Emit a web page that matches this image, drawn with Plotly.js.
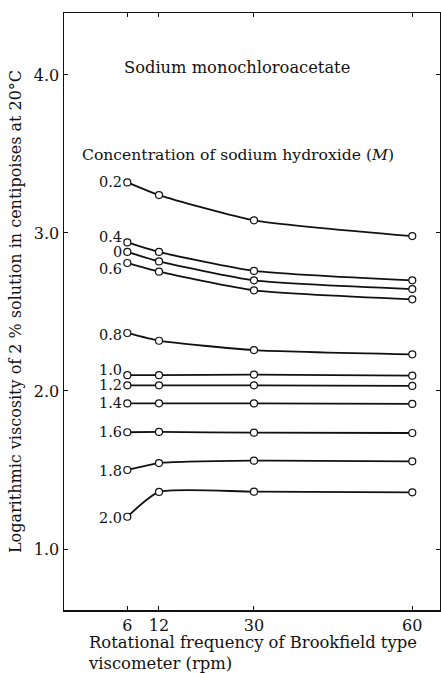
<!DOCTYPE html>
<html>
<head>
<meta charset="utf-8">
<script src="https://cdn.plot.ly/plotly-3.0.1.min.js"></script>
<style>html,body{margin:0;padding:0;background:#fff;}#chart{width:441px;height:673px;}</style>
</head>
<body>
<div id="chart"></div>
<script>
// Rotational frequency (rpm)
const rpm = [6, 12, 30, 60];
// Concentration of sodium hydroxide (M) -> log viscosity values
const conc = ["0.2", "0.4", "0", "0.6", "0.8", "1.0", "1.2", "1.4", "1.6", "1.8", "2.0"];
const v02 = [3.32, 3.24, 3.08, 2.98];
const v04 = [2.94, 2.88, 2.76, 2.70];
const v00 = [2.88, 2.82, 2.70, 2.645];
const v06 = [2.81, 2.755, 2.637, 2.58];
const v08 = [2.367, 2.318, 2.259, 2.232];
const v10 = [2.10, 2.10, 2.104, 2.097];
const v12 = [2.036, 2.036, 2.036, 2.032];
const v14 = [1.921, 1.922, 1.921, 1.918];
const v16 = [1.739, 1.741, 1.736, 1.734];
const v18 = [1.50, 1.544, 1.559, 1.555];
const v20 = [1.204, 1.361, 1.363, 1.359];
const series = [v02, v04, v00, v06, v08, v10, v12, v14, v16, v18, v20];

// label vertical nudges (px), style only
const labelShift = [0, 5, 0, -6, -2, 5, 0, 0, 0, -1, -1];

const FONT = "DejaVu Serif, Liberation Serif, serif";
const INK = "#111";

const traces = series.map((v, i) => ({
  x: rpm, y: v, type: "scatter", mode: "lines+markers",
  line: {color: INK, width: 1.8, shape: "spline", smoothing: 0.55},
  marker: {symbol: "circle", size: 7, color: "#fff", line: {color: INK, width: 1.2}},
  hoverinfo: "skip", showlegend: false, name: conc[i]
}));

const annotations = series.map((v, i) => ({
  x: rpm[0], y: v[0], xref: "x", yref: "y", text: conc[i], showarrow: false,
  xanchor: "right", yanchor: "middle", xshift: -3, yshift: labelShift[i],
  font: {family: FONT, size: 14.5, color: INK}
}));

annotations.push({
  x: 5.0, y: 4.044, xref: "x", yref: "y", text: "Sodium monochloroacetate",
  showarrow: false, xanchor: "left", yanchor: "middle",
  font: {family: FONT, size: 16.3, color: INK}
});
annotations.push({
  x: -2.96, y: 3.494, xref: "x", yref: "y", text: "Concentration of sodium hydroxide (<i>M</i>)",
  showarrow: false, xanchor: "left", yanchor: "middle",
  font: {family: FONT, size: 15.6, color: INK}
});
annotations.push({
  x: 0.0585, y: 0, xref: "paper", yref: "paper", yshift: -21,
  text: "Rotational frequency of Brookfield type<br>viscometer (rpm)",
  showarrow: false, xanchor: "left", yanchor: "top", align: "left",
  font: {family: FONT, size: 16.4, color: INK}
});

const layout = {
  width: 441, height: 673,
  margin: {l: 64, r: 1, t: 13, b: 63, pad: 0},
  paper_bgcolor: "#fff", plot_bgcolor: "#fff",
  xaxis: {
    range: [-6.0, 65.25], tickvals: rpm, ticktext: rpm.map(String),
    ticks: "inside", ticklen: 4, tickwidth: 1, tickcolor: INK,
    showline: true, linecolor: INK, linewidth: 1.5, mirror: "ticks",
    showgrid: false, zeroline: false,
    tickfont: {family: FONT, size: 16, color: INK}
  },
  yaxis: {
    range: [0.614, 4.392], tickvals: [1.0, 2.0, 3.0, 4.0],
    ticktext: ["1.0", "2.0", "3.0", "4.0"],
    ticks: "inside", ticklen: 4, tickwidth: 1, tickcolor: INK,
    showline: true, linecolor: INK, linewidth: 1.5, mirror: "ticks",
    showgrid: false, zeroline: false,
    tickfont: {family: FONT, size: 16, color: INK},
    title: {text: "Logarithmic viscosity of 2 % solution in centipoises at 20°C",
            font: {family: FONT, size: 16, color: INK}, standoff: 8}
  },
  annotations: annotations
};

Plotly.newPlot("chart", traces, layout, {displayModeBar: false, staticPlot: true});
</script>
</body>
</html>
